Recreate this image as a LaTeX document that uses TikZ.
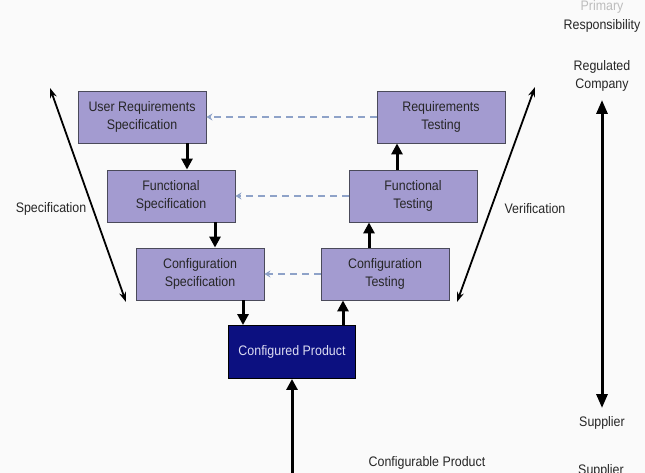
\documentclass[tikz,border=0pt]{standalone}
\usepackage{fontspec}
\setmainfont[FakeStretch=0.9]{Liberation Sans}
\usetikzlibrary{arrows.meta}
\definecolor{boxfill}{HTML}{A39BD0}
\definecolor{boxline}{HTML}{4A4A5A}
\definecolor{prodfill}{HTML}{0C1080}
\definecolor{prodtext}{HTML}{DCDCF2}
\definecolor{dashcol}{HTML}{8EA2C8}
\definecolor{txt}{HTML}{262626}
\definecolor{faint}{HTML}{BDBDBD}
\tikzset{
  phase/.style={draw=boxline, line width=0.9pt, fill=boxfill, text=txt,
    minimum width=128pt, minimum height=52pt, inner sep=0pt,
    align=center, font=\fontsize{13.8}{18}\selectfont},
  product/.style={phase, fill=prodfill, text=prodtext, draw=black,
    minimum width=127pt, minimum height=53pt},
  label/.style={text=txt, align=center, font=\fontsize{13.8}{18}\selectfont},
  flow/.style={line width=3pt, black, -{Triangle[width=11pt,length=11pt]}},
  trace/.style={dashcol, line width=1.6pt, dash pattern=on 7pt off 5pt,
    -{Stealth[width=7pt,length=6pt]}},
  span/.style={line width=1.8pt, black,
    {Stealth[width=7pt,length=10pt]}-{Stealth[width=7pt,length=10pt]}},
  resp/.style={line width=3pt, black,
    {Triangle[width=11pt,length=14pt]}-{Triangle[width=11pt,length=14pt]}}
}
\begin{document}
\begin{tikzpicture}[x=1pt, y=-1pt]
\useasboundingbox (0,0) rectangle (645,473);
\clip (0,0) rectangle (645,473);
\fill[white!98!black] (0,0) rectangle (645,473);

% specification and testing phases
\node[phase] (urs) at (142,117) {User Requirements\\Specification};
\node[phase] (rt)  at (441,117) {Requirements\\Testing};
\node[phase] (fs)  at (171,196) {Functional\\Specification};
\node[phase] (ft)  at (413,196) {Functional\\Testing};
\node[phase] (cs)  at (200,274) {Configuration\\Specification};
\node[phase] (ct)  at (385,274) {Configuration\\Testing};
\node[product] (cp) at (292,352) {Configured Product};

% side labels
\node[label] (spec) at (51,209) {Specification};
\node[label] (verif) at (535,209) {Verification};
\node[label, text=faint] (prim) at (602,7) {Primary};
\node[label] (respo) at (602,26) {Responsibility};
\node[label] (regco) at (602,76) {Regulated\\Company};
\node[label] (supp) at (602,423) {Supplier};
\node[label] (supp2) at (601,471) {Supplier};
\node[label] (cfgp) at (427,463) {Configurable Product};

% free ends of the long arrows
\coordinate (lt) at (50,88);
\coordinate (lb) at (126,302);
\coordinate (rtop) at (535,87);
\coordinate (rbot) at (457,302);
\coordinate (vt) at (602,100);
\coordinate (vb) at (602,408);
\coordinate (src) at (292,480);

% downward specification flow
\draw[flow] (urs.south -| 187,0) -- (fs.north -| 187,0);
\draw[flow] (fs.south -| 215,0) -- (cs.north -| 215,0);
\draw[flow] (cs.south -| 243,0) -- (cp.north -| 243,0);
% upward testing flow
\draw[flow] (cp.north -| 343,0) -- (ct.south -| 343,0);
\draw[flow] (ct.north -| 369,0) -- (ft.south -| 369,0);
\draw[flow] (ft.north -| 397,0) -- (rt.south -| 397,0);
\draw[flow] (src) -- (cp.south);

% traceability links
\draw[trace] (rt.west) -- (urs.east);
\draw[trace] (ft.west) -- (fs.east);
\draw[trace] (ct.west) -- (cs.east);

% specification / verification spans
\draw[span] (lt) -- (lb);
\draw[span] (rtop) -- (rbot);

% responsibility axis
\draw[resp] (vt) -- (vb);
\end{tikzpicture}
\end{document}
